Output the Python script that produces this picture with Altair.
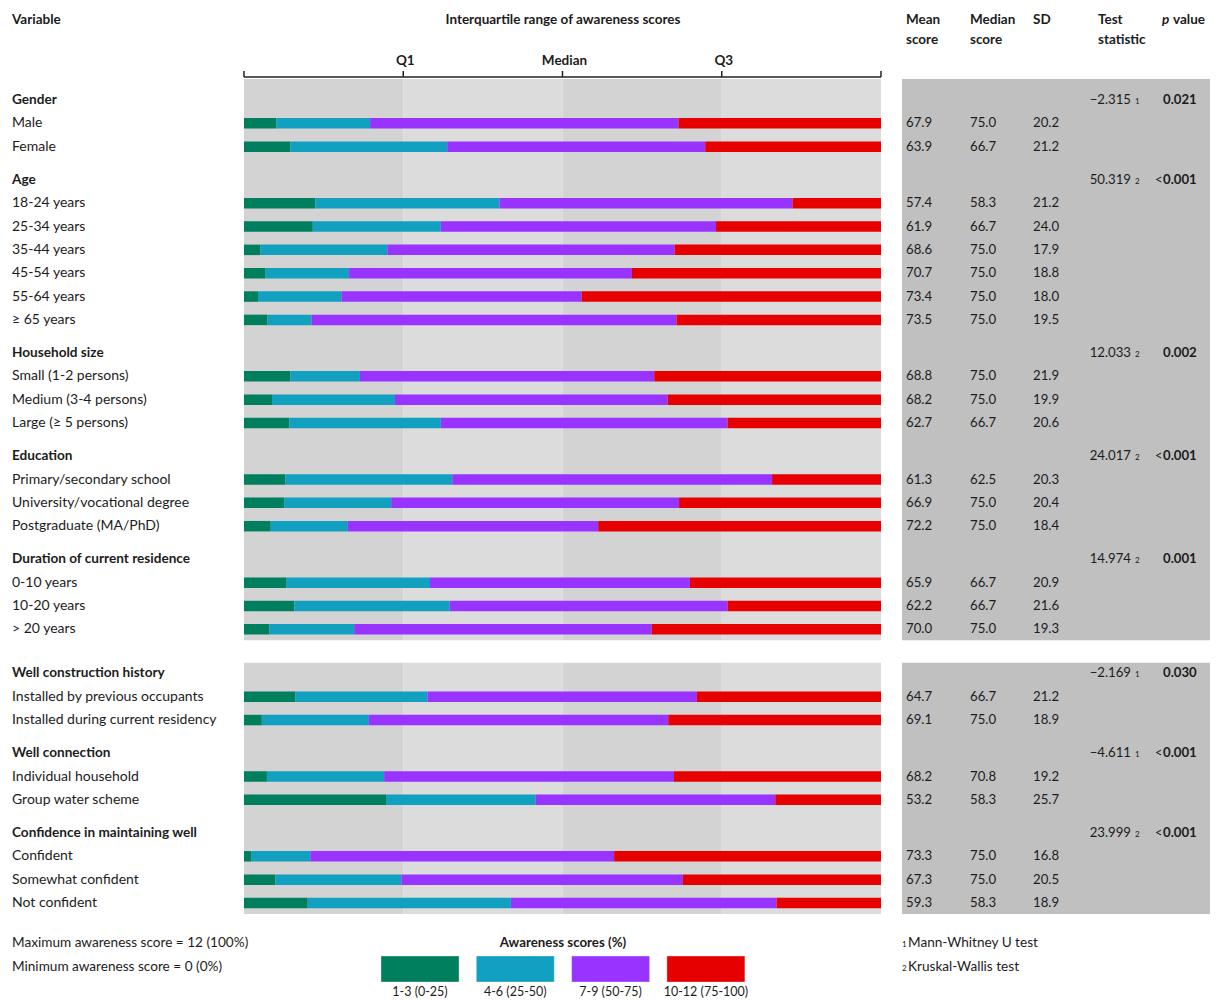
import altair as alt
import pandas as pd

# ---------------- data ----------------
groups = ["Gender", "Age", "Household size", "Education", "Duration of current residence",
          "Well construction history", "Well connection", "Confidence in maintaining well"]
group_items = [
    ["Male", "Female"],
    ["18-24 years", "25-34 years", "35-44 years", "45-54 years", "55-64 years", "\u2265 65 years"],
    ["Small (1-2 persons)", "Medium (3-4 persons)", "Large (\u2265 5 persons)"],
    ["Primary/secondary school", "University/vocational degree", "Postgraduate (MA/PhD)"],
    ["0-10 years", "10-20 years", "> 20 years"],
    ["Installed by previous occupants", "Installed during current residency"],
    ["Individual household", "Group water scheme"],
    ["Confident", "Somewhat confident", "Not confident"],
]
group_block = [0, 0, 0, 0, 0, 1, 1, 1]
test_stat = ["\u22122.315", "50.319", "12.033", "24.017", "14.974", "\u22122.169", "\u22124.611", "23.999"]
test_kind = ["1", "2", "2", "2", "2", "1", "1", "2"]
p_value = ["0.021", "<0.001", "0.002", "<0.001", "0.001", "0.030", "<0.001", "<0.001"]

categories = ["1-3 (0-25)", "4-6 (25-50)", "7-9 (50-75)", "10-12 (75-100)"]
cat_colors = ["#007f5f", "#12a0c0", "#9933ff", "#e60000"]

pct_1_3 = [5.1, 7.3, 11.2, 10.8, 2.6, 3.4, 2.2, 3.7, 7.3, 4.4, 7.1, 6.5, 6.3, 4.2, 6.7, 7.9, 4.0,
           8.1, 2.8, 3.6, 22.3, 1.2, 4.9, 10.0]
pct_4_6 = [14.7, 24.6, 28.9, 20.1, 19.9, 13.1, 13.1, 6.9, 10.9, 19.3, 23.8, 26.2, 16.8, 12.1, 22.5,
           24.4, 13.3, 20.7, 16.8, 18.4, 23.5, 9.2, 19.8, 31.9]
pct_7_9 = [48.4, 40.5, 46.0, 43.2, 45.1, 44.4, 37.7, 57.3, 46.2, 42.8, 45.0, 50.2, 45.2, 39.3, 40.8,
           43.6, 46.7, 42.3, 47.0, 45.5, 37.6, 47.7, 44.2, 41.7]
pct_10_12 = [31.8, 27.6, 13.9, 25.9, 32.4, 39.1, 47.0, 32.1, 35.6, 33.5, 24.1, 17.1, 31.7, 44.4, 30.0,
             24.1, 36.0, 28.9, 33.4, 32.5, 16.6, 41.9, 31.1, 16.4]

mean_score = [67.9, 63.9, 57.4, 61.9, 68.6, 70.7, 73.4, 73.5, 68.8, 68.2, 62.7, 61.3, 66.9, 72.2,
              65.9, 62.2, 70.0, 64.7, 69.1, 68.2, 53.2, 73.3, 67.3, 59.3]
median_score = [75.0, 66.7, 58.3, 66.7, 75.0, 75.0, 75.0, 75.0, 75.0, 75.0, 66.7, 62.5, 75.0, 75.0,
                66.7, 66.7, 75.0, 66.7, 75.0, 70.8, 58.3, 75.0, 75.0, 58.3]
sd_score = [20.2, 21.2, 21.2, 24.0, 17.9, 18.8, 18.0, 19.5, 21.9, 19.9, 20.6, 20.3, 20.4, 18.4,
            20.9, 21.6, 19.3, 21.2, 18.9, 19.2, 25.7, 16.8, 20.5, 18.9]

quartile_marks = [25, 50, 75]
quartile_labels = ["Q1", "Median", "Q3"]

# ---------------- layout ----------------
W, H = 1202, 993
FONT = "Lato"
TXT = "#1c1c1c"
first_header = 92.0
pitch = 23.35
header_gap = 33.1
block_gap = 44.0
axis_y = 69
bar_half = 5.25

heads, items = [], []
pos = first_header
for gi, g in enumerate(groups):
    if gi > 0:
        pos += block_gap if group_block[gi] != group_block[gi - 1] else header_gap
    heads.append(dict(label=g, y=pos, block=group_block[gi], stat=test_stat[gi], kind=test_kind[gi],
                      pref="<" if p_value[gi].startswith("<") else "",
                      pnum=p_value[gi].lstrip("<")))
    for it in group_items[gi]:
        pos += pitch
        items.append(dict(label=it, y=pos, block=group_block[gi]))
heads_df = pd.DataFrame(heads)
items_df = pd.DataFrame(items)
items_df["mean"] = [f"{v:.1f}" for v in mean_score]
items_df["median"] = [f"{v:.1f}" for v in median_score]
items_df["sd"] = [f"{v:.1f}" for v in sd_score]

segs = []
for i, r in items_df.iterrows():
    vals = [pct_1_3[i], pct_4_6[i], pct_7_9[i], pct_10_12[i]]
    tot = sum(vals)
    c = 0.0
    for k, v in enumerate(vals):
        v = v * 100.0 / tot
        segs.append(dict(label=r["label"], y0=r["y"] - bar_half, y1=r["y"] + bar_half,
                         cat=categories[k], start=c, end=c + v))
        c += v
seg_df = pd.DataFrame(segs)

blocks = []
for b in sorted(set(group_block)):
    hb = heads_df[heads_df.block == b]
    ib = items_df[items_df.block == b]
    top = axis_y + 2 if b == 0 else hb.y.min() - 10.5
    blocks.append(dict(block=b, top=top, bottom=ib.y.max() + 11))
blocks_df = pd.DataFrame(blocks)

bands = []
for _, bl in blocks_df.iterrows():
    for q in range(4):
        bands.append(dict(q0=q * 25, q1=(q + 1) * 25, shade="d" if q % 2 == 0 else "l",
                          top=bl.top, bottom=bl.bottom))
bands_df = pd.DataFrame(bands)

xs = alt.Scale(domain=[0, 100], range=[236, 873], nice=False, zero=False)
ys = alt.Scale(domain=[0, H], range=[0, H], nice=False, zero=False)
pxs = alt.Scale(domain=[0, W], range=[0, W], nice=False, zero=False)
cs = alt.Scale(domain=categories, range=cat_colors)

band_layer = alt.Chart(bands_df).mark_rect().encode(
    x=alt.X("q0:Q", scale=xs, axis=None), x2="q1:Q",
    y=alt.Y("top:Q", scale=ys, axis=None), y2="bottom:Q",
    color=alt.Color("shade:N", scale=alt.Scale(domain=["d", "l"], range=["#d3d3d3", "#dcdcdc"]), legend=None),
)

table_bg = alt.Chart(blocks_df).mark_rect(color="#c0c0c0").encode(
    x=alt.value(894), x2=alt.value(W),
    y=alt.Y("top:Q", scale=ys, axis=None), y2="bottom:Q",
)

bars = alt.Chart(seg_df).mark_rect().encode(
    x=alt.X("start:Q", scale=xs, axis=None), x2="end:Q",
    y=alt.Y("y0:Q", scale=ys, axis=None), y2="y1:Q",
    color=alt.Color("cat:N", scale=cs, legend=None),
)

# top axis
axis_df = pd.DataFrame({"a": [0], "b": [100]})
axis_line = alt.Chart(axis_df).mark_rule(color="#222", strokeWidth=1.5).encode(
    x=alt.X("a:Q", scale=xs, axis=None), x2="b:Q", y=alt.value(axis_y))
ticks_df = pd.DataFrame({"t": [0] + quartile_marks + [100]})
axis_ticks = alt.Chart(ticks_df).mark_rule(color="#222", strokeWidth=1.5).encode(
    x=alt.X("t:Q", scale=xs, axis=None), y=alt.value(axis_y - 6), y2=alt.value(axis_y))
qlab = alt.Chart(pd.DataFrame({"t": quartile_marks, "lab": quartile_labels})).mark_text(
    font=FONT, fontSize=13.5, fontWeight="bold", color=TXT, baseline="middle", dx=2).encode(
    x=alt.X("t:Q", scale=xs, axis=None), y=alt.value(53), text="lab:N")


def txt(df, field, x, bold=False, align="left", size=13, dy=0, color=TXT, italic=False):
    kw = dict(font=FONT, fontSize=size, align=align, baseline="middle", color=color, dy=dy)
    if bold:
        kw["fontWeight"] = "bold"
    if italic:
        kw["fontStyle"] = "italic"
    return alt.Chart(df).mark_text(**kw).encode(
        x=alt.value(x), y=alt.Y("y:Q", scale=ys, axis=None), text=f"{field}:N")


head_lab = txt(heads_df, "label", 4, bold=True, size=13.6)
item_lab = txt(items_df, "label", 4, size=14)
mean_t = txt(items_df, "mean", 898, size=13.2)
med_t = txt(items_df, "median", 962, size=13.2)
sd_t = txt(items_df, "sd", 1025, size=13.2)
stat_t = txt(heads_df, "stat", 1123, align="right", size=13.2)
kind_t = txt(heads_df, "kind", 1127, size=8, dy=2)
pref_t = txt(heads_df, "pref", 1147, size=13)
pnum_t = txt(heads_df, "pnum", 1155, bold=True, size=13.2)

# column headers
hdr_rows = [
    ("Variable", 4, 12, "left"), ("Interquartile range of awareness scores", 555, 12, "center"),
    ("Mean", 898, 12, "left"), ("score", 898, 32, "left"),
    ("Median", 962, 12, "left"), ("score", 962, 32, "left"),
    ("SD", 1025, 12, "left"),
    ("Test", 1090, 12, "left"), ("statistic", 1090, 32, "left"),
    ("value", 1165, 12, "left"),
]
hdr_layers = []
for t, x, y, al in hdr_rows:
    hdr_layers.append(alt.Chart(pd.DataFrame({"t": [t]})).mark_text(
        font=FONT, fontSize=13.5, fontWeight="bold", color=TXT, align=al, baseline="middle").encode(
        x=alt.value(x), y=alt.value(y), text="t:N"))
hdr_layers.append(alt.Chart(pd.DataFrame({"t": ["p"]})).mark_text(
    font=FONT, fontSize=13.5, fontWeight="bold", fontStyle="italic", color=TXT, align="left",
    baseline="middle").encode(x=alt.value(1154), y=alt.value(12), text="t:N"))

# footnotes
foot = [("Maximum awareness score = 12 (100%)", 4, 935), ("Minimum awareness score = 0 (0%)", 4, 959),
        ("Mann-Whitney U test", 900, 935), ("Kruskal-Wallis test", 900, 959)]
foot_layers = []
for t, x, y in foot:
    foot_layers.append(alt.Chart(pd.DataFrame({"t": [t]})).mark_text(
        font=FONT, fontSize=13.6, color=TXT, align="left", baseline="middle").encode(
        x=alt.value(x), y=alt.value(y), text="t:N"))
for t, y in [("1", 937), ("2", 961)]:
    foot_layers.append(alt.Chart(pd.DataFrame({"t": [t]})).mark_text(
        font=FONT, fontSize=8, color=TXT, align="left", baseline="middle").encode(
        x=alt.value(894), y=alt.value(y), text="t:N"))

# legend
leg_df = pd.DataFrame({"cat": categories, "i": list(range(len(categories)))})
leg_base = alt.Chart(leg_df).transform_calculate(
    lx0="373 + datum.i * 95.3", lx1="373 + datum.i * 95.3 + 78", lxc="373 + datum.i * 95.3 + 39")
leg_boxes = leg_base.mark_rect(stroke="#ffffff", strokeOpacity=0.35, strokeWidth=1).encode(
    x=alt.X("lx0:Q", scale=pxs, axis=None), x2="lx1:Q",
    y=alt.value(948), y2=alt.value(974),
    color=alt.Color("cat:N", scale=cs, legend=None))
leg_labels = leg_base.mark_text(font=FONT, fontSize=12.5, color=TXT, align="center",
                                baseline="middle").encode(
    x=alt.X("lxc:Q", scale=pxs, axis=None), y=alt.value(984), text="cat:N")
leg_title = alt.Chart(pd.DataFrame({"t": ["Awareness scores (%)"]})).mark_text(
    font=FONT, fontSize=13.3, fontWeight="bold", color=TXT, align="center", baseline="middle").encode(
    x=alt.value(555), y=alt.value(935), text="t:N")

chart = alt.layer(
    band_layer, table_bg, bars, axis_line, axis_ticks, qlab,
    head_lab, item_lab, mean_t, med_t, sd_t, stat_t, kind_t, pref_t, pnum_t,
    *hdr_layers, *foot_layers, leg_boxes, leg_labels, leg_title,
).resolve_scale(x="independent", color="independent").properties(
    width=W, height=H, padding=0, autosize=alt.AutoSizeParams(type="none"),
    background="white",
).configure_view(stroke=None)

chart.save("out.html", embed_options={"renderer": "svg", "actions": False})
